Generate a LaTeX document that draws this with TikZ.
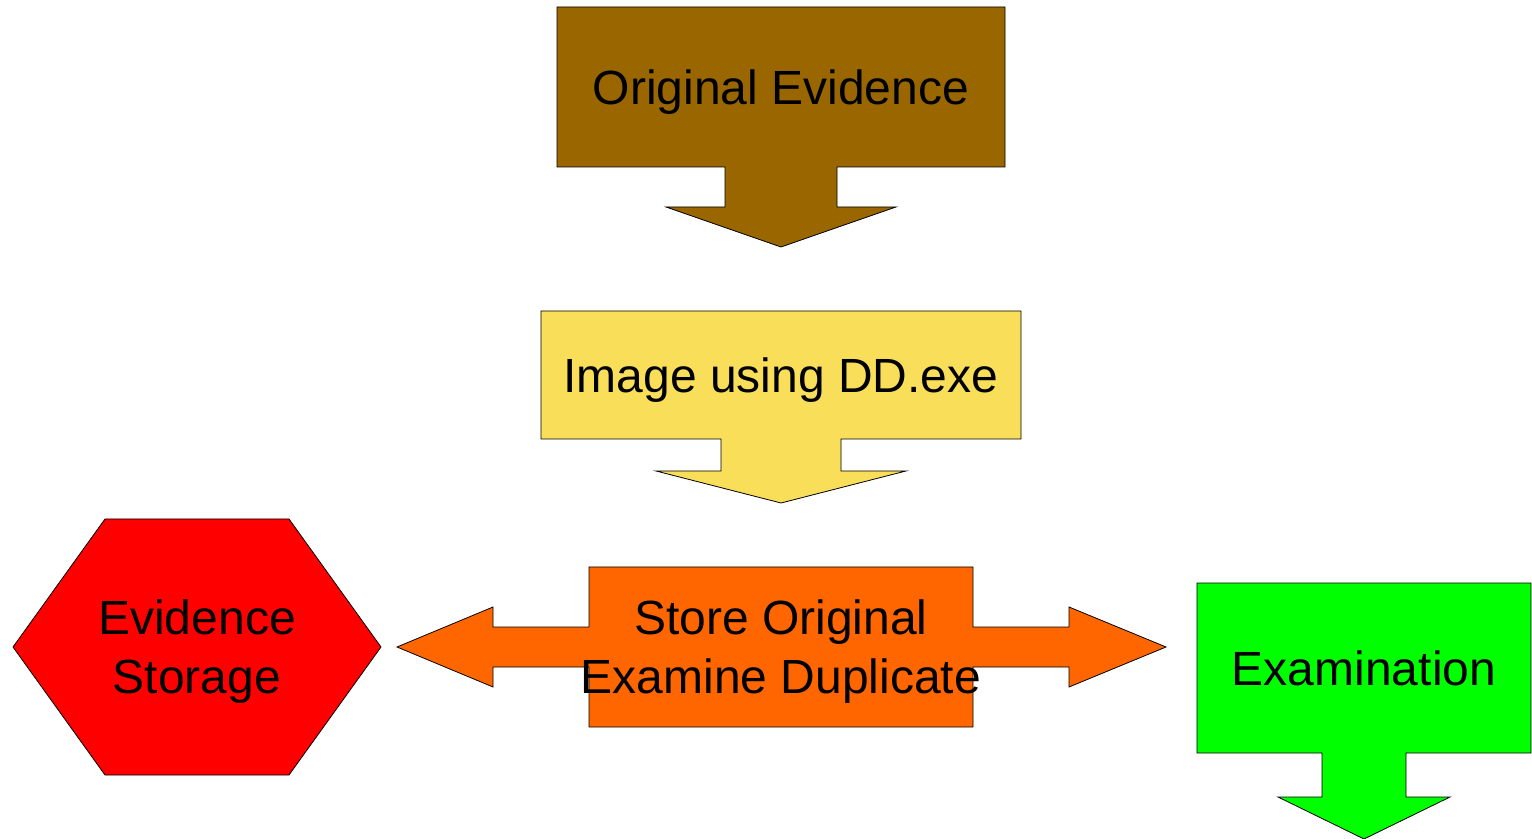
\documentclass[tikz,border=0pt]{standalone}
\usepackage{fontspec}
\setmainfont{Liberation Sans}
\usepackage{xcolor}
\usepackage{tikz}
\usetikzlibrary{positioning}
\usetikzlibrary{backgrounds}

\definecolor{evbrown}{HTML}{996600}
\definecolor{imgyellow}{HTML}{F9DE59}
\definecolor{storeorange}{HTML}{FF6600}
\definecolor{storagered}{HTML}{FF0000}
\definecolor{examgreen}{HTML}{00FF00}

\begin{document}
\begin{tikzpicture}[x=0.5pt,y=-0.5pt,line width=1pt,
  lbltwo/.style={inner sep=0pt,align=center,text depth=0pt,
    font=\fontsize{24}{29.5}\selectfont},
  lbl/.style={lbltwo,text height=17.2pt},
  shp/.style={draw=black,line join=miter}]
\useasboundingbox (0,0) rectangle (1532,839);

\node[lbl]    (orig)    at (781,87)  {Original Evidence};
\node[lbl]    (img)     at (781,375) {Image using DD.exe};
\node[lbltwo] (store)   at (781,647) {Store Original\\Examine Duplicate};
\node[lbltwo] (storage) at (197,647) {Evidence\\Storage};
\node[lbl]    (exam)    at (1364,668) {Examination};

\begin{scope}[on background layer]
% down arrow callouts
\draw[shp,fill=evbrown,shift={(orig)}] (-224,-80) -- (224,-80) -- (224,80)
  -- (56,80) -- (56,120) -- (115,120) -- (0,160) -- (-115,120) -- (-56,120)
  -- (-56,80) -- (-224,80) -- cycle;
\draw[shp,fill=imgyellow,shift={(img)}] (-240,-64) -- (240,-64) -- (240,64)
  -- (60,64) -- (60,96) -- (125,96) -- (0,128) -- (-125,96) -- (-60,96)
  -- (-60,64) -- (-240,64) -- cycle;
\draw[shp,fill=examgreen,shift={(exam)}] (-167,-85) -- (167,-85) -- (167,85)
  -- (42,85) -- (42,129) -- (86,129) -- (0,171) -- (-86,129) -- (-42,129)
  -- (-42,85) -- (-167,85) -- cycle;
% left-right arrow callout
\draw[shp,fill=storeorange,shift={(store)}] (-192,-80) -- (192,-80) -- (192,-20)
  -- (288,-20) -- (288,-40) -- (385,0) -- (288,40) -- (288,20) -- (192,20)
  -- (192,80) -- (-192,80) -- (-192,20) -- (-288,20) -- (-288,40) -- (-384,0)
  -- (-288,-40) -- (-288,-20) -- (-192,-20) -- cycle;
% hexagon
\draw[shp,fill=storagered,shift={(storage)}] (-184,0) -- (-92,-128) -- (92,-128)
  -- (184,0) -- (92,128) -- (-92,128) -- cycle;
\end{scope}

\end{tikzpicture}
\end{document}
